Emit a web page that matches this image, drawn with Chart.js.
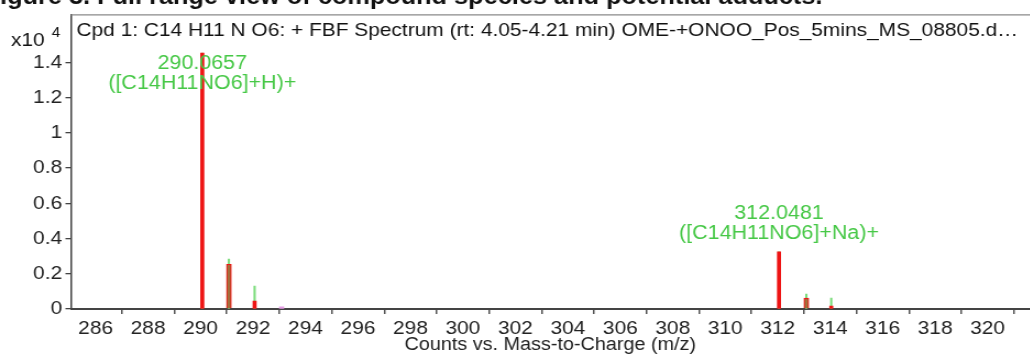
<!DOCTYPE html>
<html>
<head>
<meta charset="utf-8">
<script src="https://cdn.jsdelivr.net/npm/chart.js@4.4.1/dist/chart.umd.min.js"></script>
<style>
  html, body { margin: 0; padding: 0; background: #fff; overflow: hidden; }
  #wrap { width: 936px; height: 356px; transform: scaleX(1.1); transform-origin: 0 0; }
</style>
</head>
<body>
<div id="wrap"><canvas id="c" width="936" height="356"></canvas></div>
<script>
// Spectrum values (counts in units of 10^4) against m/z
const mainMz = [290.0657, 312.0481];
const mainCounts = [1.452, 0.324];
const isoBoxMz = [291.08, 313.09];
const isoBoxCounts = [0.254, 0.062];
const minorMz = [292.06, 314.04];
const minorCounts = [0.045, 0.017];
const predictedMz = [290.0657, 291.08, 292.06, 312.0481, 313.09, 314.04];
const predictedCounts = [1.452, 0.283, 0.13, 0.324, 0.085, 0.062];
const otherMz = [293.09];
const otherCounts = [0.012];

const xTicks = [286, 288, 290, 292, 294, 296, 298, 300, 302, 304, 306, 308, 310, 312, 314, 316, 318, 320];
const yTicks = [0, 0.2, 0.4, 0.6, 0.8, 1, 1.2, 1.4];
const yTickLabels = ['0', '0.2', '0.4', '0.6', '0.8', '1', '1.2', '1.4'];

const peakLabelMz = [290.0657, 312.0481];
const peakLabelCounts = [1.395, 0.543];
const peakLabelLines = [['290.0657', '([C14H11NO6]+H)+'], ['312.0481', '([C14H11NO6]+Na)+']];

const headingText = 'Figure 3. Full range view of compound species and potential adducts.';
const plotTitle = 'Cpd 1: C14 H11 N O6: + FBF Spectrum (rt: 4.05-4.21 min) OME-+ONOO_Pos_5mins_MS_08805.d\u2026';
const xTitle = 'Counts vs. Mass-to-Charge (m/z)';

const FONT = '"Liberation Sans", Arial, sans-serif';
const RED = '#ee1414';
const GREEN = '#46c846';

const pts = (xs, ys) => xs.map((x, i) => ({ x: x, y: ys[i] }));

const decorations = {
  id: 'decorations',
  afterDraw(chart) {
    const ctx = chart.ctx;
    const area = chart.chartArea;
    const xs = chart.scales.x, ys = chart.scales.y;
    ctx.save();
    // page heading, cut by the top edge
    ctx.fillStyle = '#111';
    ctx.font = 'bold 23px ' + FONT;
    ctx.textAlign = 'left';
    ctx.textBaseline = 'alphabetic';
    ctx.fillText(headingText, -14, 4);
    // frame line along the top of the plot
    ctx.strokeStyle = '#8a8a8a';
    ctx.lineWidth = 1.2;
    ctx.beginPath();
    ctx.moveTo(area.left, area.top + 0.5);
    ctx.lineTo(area.right, area.top + 0.5);
    ctx.stroke();
    // title inside the plot
    ctx.fillStyle = '#111';
    ctx.font = '19px ' + FONT;
    ctx.textBaseline = 'middle';
    ctx.fillText(plotTitle, area.left + 5, 31);
    // y multiplier
    ctx.font = '19px ' + FONT;
    ctx.fillText('x10', 10, 41);
    ctx.font = '14px ' + FONT;
    ctx.fillText('4', 47, 33);
    // peak annotations
    ctx.fillStyle = GREEN;
    ctx.font = '19.5px ' + FONT;
    ctx.textAlign = 'center';
    peakLabelMz.forEach((mz, i) => {
      const px = xs.getPixelForValue(mz);
      const py = ys.getPixelForValue(peakLabelCounts[i]);
      peakLabelLines[i].forEach((t, j) => ctx.fillText(t, px, py + j * 20.5));
    });
    ctx.restore();
  }
};

new Chart(document.getElementById('c'), {
  type: 'bar',
  data: {
    datasets: [
      { label: 'observed', data: pts(mainMz, mainCounts), backgroundColor: RED, borderWidth: 0, barThickness: 3, order: 1 },
      { label: 'isotope', data: pts(isoBoxMz, isoBoxCounts), backgroundColor: '#a0703c', borderColor: RED, borderWidth: 1.2, barThickness: 4.5, order: 1 },
      { label: 'minor', data: pts(minorMz, minorCounts), backgroundColor: RED, borderWidth: 0, barThickness: 3, order: 1 },
      { label: 'other', data: pts(otherMz, otherCounts), backgroundColor: '#e49be4', borderWidth: 0, barThickness: 4, order: 1 },
      { label: 'predicted', data: pts(predictedMz, predictedCounts), backgroundColor: '#7cdc7c', borderWidth: 0, barThickness: 1.4, order: 2 }
    ]
  },
  options: {
    responsive: false,
    animation: false,
    events: [],
    layout: { padding: { top: 13, right: 0, bottom: 0, left: 0 } },
    datasets: { bar: { grouped: false } },
    plugins: { legend: { display: false }, tooltip: { enabled: false }, title: { display: false } },
    scales: {
      x: {
        type: 'linear',
        min: 285.06,
        max: 321.6,
        offset: false,
        afterBuildTicks: (s) => { s.ticks = xTicks.map(v => ({ value: v })); },
        afterFit: (s) => { s.height = 47; },
        grid: { display: true, drawOnChartArea: false, drawTicks: true, tickLength: 5, color: '#555', lineWidth: 1.5 },
        border: { display: true, color: '#444', width: 2 },
        ticks: { color: '#222', font: { family: FONT, size: 19 }, padding: 3, maxRotation: 0, autoSkip: false, callback: (v) => String(v) },
        title: { display: true, text: xTitle, color: '#222', font: { family: FONT, size: 18 }, padding: { top: 0, bottom: 0 } }
      },
      y: {
        type: 'linear',
        min: 0,
        max: 1.672,
        afterBuildTicks: (s) => { s.ticks = yTicks.map(v => ({ value: v })); },
        afterFit: (s) => { s.width = 64.5; },
        grid: { display: true, drawOnChartArea: false, drawTicks: true, tickLength: 5, color: '#444', lineWidth: 1.3 },
        border: { display: true, color: '#444', width: 1.5 },
        ticks: { color: '#222', font: { family: FONT, size: 19 }, padding: 3, autoSkip: false, callback: (v) => yTickLabels[yTicks.indexOf(v)] }
      }
    }
  },
  plugins: [decorations]
});
</script>
</body>
</html>
